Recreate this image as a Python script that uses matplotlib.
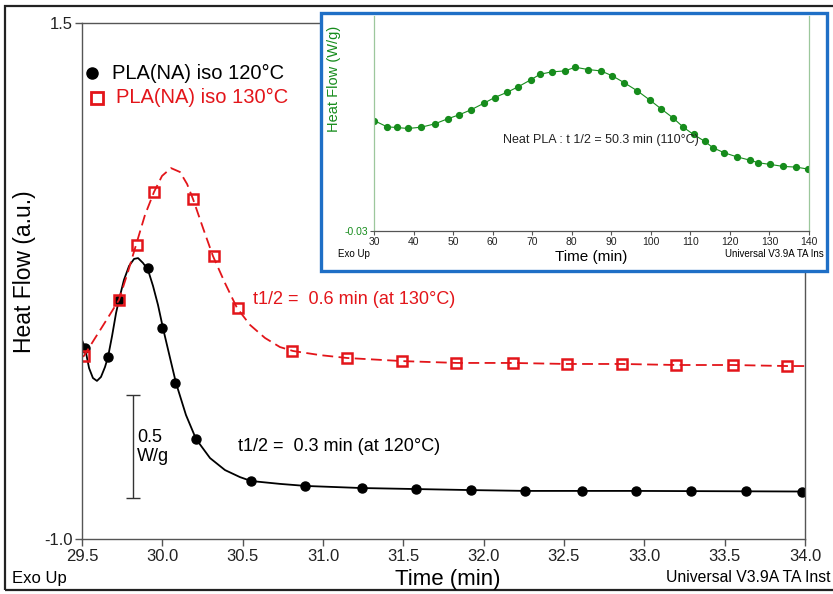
import matplotlib
matplotlib.use('Agg')
import matplotlib.pyplot as plt
from matplotlib.patches import Rectangle

plt.rcParams['font.family'] = ['Liberation Sans', 'DejaVu Sans']

# black curve, PLA(NA) iso 120C
t120 = [29.500, 29.519, 29.544, 29.568, 29.593, 29.618, 29.643, 29.662, 29.687,
        29.712, 29.730, 29.761, 29.793, 29.824, 29.849, 29.880, 29.911, 29.942,
        29.973, 30.004, 30.048, 30.085, 30.147, 30.210, 30.297, 30.390, 30.483,
        30.552, 30.732, 30.894, 31.237, 31.579, 31.921, 32.263, 32.948, 34.000]
hf120 = [-0.036, -0.075, -0.172, -0.220, -0.234, -0.215, -0.167, -0.118, -0.017,
         0.095, 0.158, 0.255, 0.323, 0.357, 0.361, 0.337, 0.303, 0.226,
         0.134, 0.022, -0.123, -0.244, -0.399, -0.516, -0.608, -0.666, -0.700,
         -0.719, -0.733, -0.743, -0.753, -0.758, -0.763, -0.767, -0.767, -0.770]
# black markers
t120_pts = [29.52, 29.66, 29.73, 29.91, 30.00, 30.08, 30.21, 30.55, 30.89, 31.24,
            31.58, 31.92, 32.26, 32.61, 32.95, 33.29, 33.63, 33.98]
hf120_pts = [-0.075, -0.118, 0.158, 0.313, 0.022, -0.244, -0.516, -0.719, -0.743,
             -0.753, -0.758, -0.763, -0.767, -0.767, -0.767, -0.767, -0.767, -0.770]

# red curve, PLA(NA) iso 130C
t130 = [29.500, 29.512, 29.581, 29.612, 29.674, 29.730, 29.786, 29.836, 29.892,
        29.948, 29.998, 30.054, 30.110, 30.154, 30.191, 30.253, 30.315, 30.390,
        30.465, 30.546, 30.639, 30.732, 30.813, 30.981, 31.149, 31.492, 31.834,
        32.176, 32.519, 32.861, 33.203, 33.546, 33.888, 34.000]
hf130 = [-0.118, -0.113, -0.027, 0.011, 0.088, 0.158, 0.294, 0.424, 0.570,
         0.681, 0.759, 0.797, 0.778, 0.720, 0.647, 0.507, 0.371, 0.240,
         0.119, 0.037, -0.026, -0.070, -0.089, -0.109, -0.123, -0.138, -0.147,
         -0.147, -0.152, -0.152, -0.157, -0.157, -0.162, -0.162]
# red markers
t130_pts = [29.51, 29.73, 29.84, 29.95, 30.19, 30.32, 30.47, 30.81, 31.15, 31.49,
            31.83, 32.18, 32.52, 32.86, 33.20, 33.55, 33.89]
hf130_pts = [-0.113, 0.158, 0.424, 0.681, 0.647, 0.371, 0.119, -0.089, -0.123,
             -0.138, -0.147, -0.147, -0.152, -0.152, -0.157, -0.157, -0.162]

# inset: neat PLA at 110C
t_neat = [30.0, 33.3, 35.7, 38.6, 42.0, 45.4, 48.6, 51.5, 54.5, 57.8, 60.5, 63.7,
          66.4, 69.6, 72.0, 74.9, 78.2, 80.9, 84.2, 87.4, 90.3, 93.2, 96.6, 99.8,
          102.5, 105.7, 108.2, 110.8, 113.7, 115.7, 118.6, 121.7, 125.0, 127.2,
          130.2, 133.5, 136.7, 139.8]
hf_neat = [0.0032, 0.0013, 0.0011, 0.0008, 0.0012, 0.0022, 0.0037, 0.0049, 0.0064,
           0.0084, 0.0101, 0.0117, 0.0133, 0.0154, 0.0171, 0.0178, 0.0181, 0.0192,
           0.0185, 0.0181, 0.0166, 0.0146, 0.0121, 0.0093, 0.0068, 0.0039, 0.0012,
           -0.0010, -0.0031, -0.0050, -0.0065, -0.0077, -0.0087, -0.0095, -0.0100,
           -0.0106, -0.0108, -0.0114]

xticks = [29.5, 30.0, 30.5, 31.0, 31.5, 32.0, 32.5, 33.0, 33.5, 34.0]
inset_xticks = [30, 40, 50, 60, 70, 80, 90, 100, 110, 120, 130, 140]

W, H = 833, 594
red = '#e3151a'
green = '#168c1c'
axis_col = '#555555'


def fx(px):
    return px / W


def fy(py):
    return 1 - py / H


fig = plt.figure(figsize=(W / 100, H / 100), dpi=100)

# outer frame of the figure
fig.patches.append(Rectangle((fx(5), fy(590)), fx(840) - fx(5), fy(6) - fy(590),
                             transform=fig.transFigure, fill=False,
                             ec='#222222', lw=1.6, zorder=1))

ax = fig.add_axes([fx(82), fy(539), fx(805) - fx(82), fy(23) - fy(539)])
ax.set_zorder(2)

ax.plot(t120, hf120, color='black', lw=1.3)
ax.plot(t120_pts, hf120_pts, ls='none', marker='o', ms=6.5, color='black')
ax.plot(t130, hf130, color=red, lw=1.3, dashes=(6, 3))
ax.plot(t130_pts, hf130_pts, ls='none', marker='s', ms=7.5, mfc='none',
        mec=red, mew=1.8)

ax.set_xlim(29.5, 34.0)
ax.set_ylim(-1.0, 1.5)
ax.set_xticks(xticks)
ax.set_xticklabels(['%.1f' % v for v in xticks])
ax.set_yticks([1.5, -1.0])
ax.set_yticklabels(['1.5', '-1.0'])
ax.tick_params(direction='out', length=5, width=1, color=axis_col,
               labelsize=12, labelcolor='#222222', pad=2)
for s in ax.spines.values():
    s.set_color(axis_col)
    s.set_linewidth(1)

# legend drawn by hand
ax.plot([0.0138], [0.903], transform=ax.transAxes, marker='o', ms=8,
        color='black', clip_on=False)
ax.text(0.0415, 0.903, 'PLA(NA) iso 120°C', transform=ax.transAxes,
        fontsize=14.5, va='center', ha='left', color='black')
ax.plot([0.0207], [0.855], transform=ax.transAxes, marker='s', ms=9,
        mfc='none', mec=red, mew=2, clip_on=False)
ax.text(0.047, 0.855, 'PLA(NA) iso 130°C', transform=ax.transAxes,
        fontsize=14.5, va='center', ha='left', color=red)

# annotations
ax.text(30.564, 0.158, 't1/2 =  0.6 min (at 130°C)', color=red, fontsize=13,
        va='center', ha='left')
ax.text(30.471, -0.554, 't1/2 =  0.3 min (at 120°C)', color='black', fontsize=13,
        va='center', ha='left')

# scale bar
ax.errorbar([29.817], [-0.55], yerr=0.25, color='#333333', lw=1, capsize=4.7,
            capthick=1)
ax.text(29.842, -0.554, '0.5\nW/g', fontsize=13, va='center', ha='left',
        linespacing=1.1)

fig.text(fx(448), fy(580), 'Time (min)', fontsize=16, ha='center', va='center')
fig.text(fx(25), fy(272), 'Heat Flow (a.u.)', fontsize=16.5, ha='center',
         va='center', rotation=90)
fig.text(fx(12), fy(578), 'Exo Up', fontsize=12, ha='left', va='center')
fig.text(fx(666), fy(578), 'Universal V3.9A TA Inst', fontsize=11.3, ha='left',
         va='center')

# inset frame
fig.patches.append(Rectangle((fx(321), fy(271)), fx(827) - fx(321), fy(13) - fy(271),
                             transform=fig.transFigure, fc='white',
                             ec='#1f6fc6', lw=2.4, zorder=5))

ax2 = fig.add_axes([fx(374), fy(231), fx(809) - fx(374), fy(16) - fy(231)])
ax2.set_zorder(10)
ax2.patch.set_visible(False)
ax2.plot(t_neat, hf_neat, color=green, lw=0.8, marker='o', ms=4.2)
ax2.set_xlim(30, 140)
ax2.set_ylim(-0.03, 0.0346)
ax2.set_xticks(inset_xticks)
ax2.set_yticks([-0.03])
ax2.set_yticklabels(['-0.03'])
ax2.tick_params(axis='x', direction='out', length=3, width=0.8, color=axis_col,
                labelsize=7.5, labelcolor='#222222', pad=1)
ax2.tick_params(axis='y', direction='out', length=3, width=0.8, color=axis_col,
                labelsize=7.5, labelcolor=green, pad=1)
ax2.spines['top'].set_visible(False)
ax2.spines['left'].set_color('#9cc79c')
ax2.spines['right'].set_color('#9cc79c')
ax2.spines['bottom'].set_color(axis_col)
for s in ax2.spines.values():
    s.set_linewidth(0.9)
ax2.text(87.4, -0.0026, 'Neat PLA : t 1/2 = 50.3 min (110°C)', fontsize=9,
         ha='center', va='center', color='#222222')

fig.text(fx(334), fy(79), 'Heat Flow (W/g)', fontsize=10.5, color=green,
         rotation=90, ha='center', va='center', zorder=12)
fig.text(fx(591), fy(257), 'Time (min)', fontsize=11, ha='center', va='center',
         zorder=12)
fig.text(fx(338), fy(254), 'Exo Up', fontsize=7, ha='left', va='center', zorder=12)
fig.text(fx(725), fy(254), 'Universal V3.9A TA Ins', fontsize=7, ha='left',
         va='center', zorder=12)

fig.savefig('out.png', dpi=100)
